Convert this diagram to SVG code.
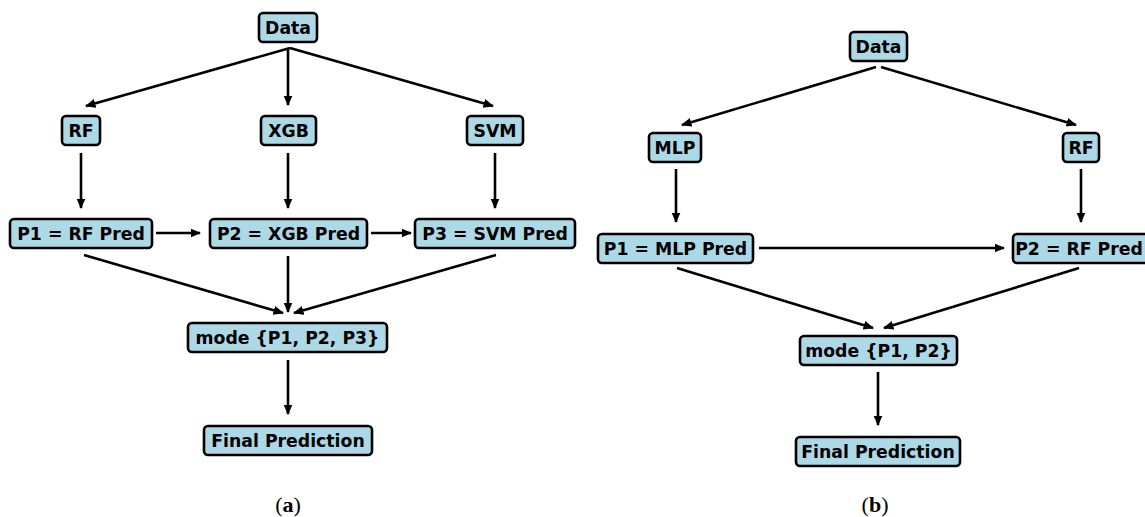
<svg xmlns="http://www.w3.org/2000/svg" width="1145" height="517" viewBox="0 0 1145 517">
<style>
.box{fill:#add8e6;stroke:#000;stroke-width:2.6}
.lbl{font-family:"DejaVu Sans",sans-serif;font-weight:bold;font-size:17.3px;text-anchor:middle;fill:#000}
.cap{font-family:"Liberation Serif","DejaVu Serif",serif;font-size:22px;text-anchor:middle;fill:#000}
.con line{stroke:#000;stroke-width:2.6;fill:none}
</style>
<defs>
<marker id="ah" markerUnits="userSpaceOnUse" markerWidth="13" markerHeight="11" refX="9.5" refY="4.5" orient="auto">
<path d="M0,0 L10.5,4.5 L0,9 z" fill="#000"/>
</marker>
</defs>
<rect width="1145" height="517" fill="#fff"/>
<g id="connectors" class="con">
<line x1="290" y1="48" x2="86" y2="106" marker-end="url(#ah)"/>
<line x1="288" y1="48" x2="288" y2="105" marker-end="url(#ah)"/>
<line x1="290" y1="48" x2="493" y2="106" marker-end="url(#ah)"/>
<line x1="81" y1="153" x2="81" y2="208" marker-end="url(#ah)"/>
<line x1="288" y1="153" x2="288" y2="208" marker-end="url(#ah)"/>
<line x1="495" y1="153" x2="495" y2="208" marker-end="url(#ah)"/>
<line x1="156" y1="233" x2="200" y2="233" marker-end="url(#ah)"/>
<line x1="371" y1="233" x2="411" y2="233" marker-end="url(#ah)"/>
<line x1="84" y1="255" x2="283" y2="313" marker-end="url(#ah)"/>
<line x1="288" y1="256" x2="288" y2="312" marker-end="url(#ah)"/>
<line x1="496" y1="255" x2="294" y2="313" marker-end="url(#ah)"/>
<line x1="288" y1="360" x2="288" y2="414" marker-end="url(#ah)"/>
<line x1="876" y1="67" x2="682" y2="125" marker-end="url(#ah)"/>
<line x1="881" y1="67" x2="1076" y2="125" marker-end="url(#ah)"/>
<line x1="676" y1="169" x2="676" y2="222" marker-end="url(#ah)"/>
<line x1="1081" y1="169" x2="1081" y2="222" marker-end="url(#ah)"/>
<line x1="759" y1="248" x2="1004" y2="248" marker-end="url(#ah)"/>
<line x1="677" y1="268" x2="873" y2="328" marker-end="url(#ah)"/>
<line x1="1079" y1="268" x2="884" y2="328" marker-end="url(#ah)"/>
<line x1="878" y1="372" x2="878" y2="425" marker-end="url(#ah)"/>
</g>
<g id="a-data"><rect class="box" x="259" y="13" width="58" height="29" rx="4"/><text class="lbl" x="288" y="33.5">Data</text></g>
<g id="a-rf"><rect class="box" x="62" y="116" width="38" height="29" rx="4"/><text class="lbl" x="81" y="136.5">RF</text></g>
<g id="a-xgb"><rect class="box" x="261" y="116" width="55" height="29" rx="4"/><text class="lbl" x="288.5" y="136.5">XGB</text></g>
<g id="a-svm"><rect class="box" x="467" y="116" width="56" height="29" rx="4"/><text class="lbl" x="495" y="136.5">SVM</text></g>
<g id="a-p1"><rect class="box" x="10" y="219" width="142" height="29" rx="4"/><text class="lbl" x="81" y="239.5">P1 = RF Pred</text></g>
<g id="a-p2"><rect class="box" x="210" y="219" width="157" height="29" rx="4"/><text class="lbl" x="288.5" y="239.5">P2 = XGB Pred</text></g>
<g id="a-p3"><rect class="box" x="415" y="219" width="160" height="29" rx="4"/><text class="lbl" x="495" y="239.5">P3 = SVM Pred</text></g>
<g id="a-mode"><rect class="box" x="188" y="323" width="199" height="29" rx="4"/><text class="lbl" x="287.5" y="343.5">mode {P1, P2, P3}</text></g>
<g id="a-final"><rect class="box" x="204" y="426" width="168" height="29" rx="4"/><text class="lbl" x="288" y="446.5">Final Prediction</text></g>
<g id="b-data"><rect class="box" x="850" y="32" width="57" height="29" rx="4"/><text class="lbl" x="878.5" y="52.5">Data</text></g>
<g id="b-mlp"><rect class="box" x="649" y="133" width="52" height="29" rx="4"/><text class="lbl" x="675" y="153.5">MLP</text></g>
<g id="b-rf"><rect class="box" x="1063" y="133" width="36" height="29" rx="4"/><text class="lbl" x="1081" y="153.5">RF</text></g>
<g id="b-p1"><rect class="box" x="598" y="234" width="155" height="29" rx="4"/><text class="lbl" x="675.5" y="254.5">P1 = MLP Pred</text></g>
<g id="b-p2"><rect class="box" x="1013" y="234" width="142" height="29" rx="4"/><text class="lbl" x="1079" y="254.5">P2 = RF Pred</text></g>
<g id="b-mode"><rect class="box" x="800" y="336" width="157" height="29" rx="4"/><text class="lbl" x="878.5" y="356.5">mode {P1, P2}</text></g>
<g id="b-final"><rect class="box" x="796" y="437" width="164" height="29" rx="4"/><text class="lbl" x="878" y="457.5">Final Prediction</text></g>
<text class="cap" x="288" y="512">(<tspan font-weight="bold">a</tspan>)</text>
<text class="cap" x="875" y="512">(<tspan font-weight="bold">b</tspan>)</text>
</svg>
